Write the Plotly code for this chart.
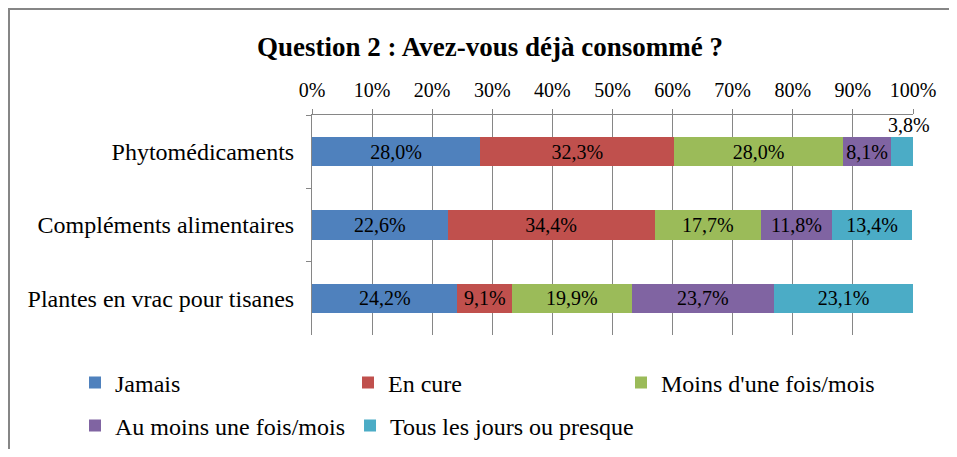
import plotly.graph_objects as go

categories = ["Phytomédicaments", "Compléments alimentaires", "Plantes en vrac pour tisanes"]
series_names = ["Jamais", "En cure", "Moins d'une fois/mois", "Au moins une fois/mois", "Tous les jours ou presque"]
jamais = [28.0, 22.6, 24.2]
en_cure = [32.3, 34.4, 9.1]
moins_une_fois = [28.0, 17.7, 19.9]
au_moins_une_fois = [8.1, 11.8, 23.7]
tous_les_jours = [3.8, 13.4, 23.1]
tick_values = [0, 10, 20, 30, 40, 50, 60, 70, 80, 90, 100]
tick_labels = ["0%", "10%", "20%", "30%", "40%", "50%", "60%", "70%", "80%", "90%", "100%"]

series = [jamais, en_cure, moins_une_fois, au_moins_une_fois, tous_les_jours]
colors = ["#4F81BD", "#C0504D", "#9BBB59", "#8064A2", "#4BACC6"]
legends = ["legend", "legend", "legend", "legend2", "legend2"]

FONT = "Liberation Serif"

def fmt(v):
    return f"{v:.1f}".replace(".", ",") + "%"

fig = go.Figure()
for name, vals, col, lg in zip(series_names, series, colors, legends):
    texts = ["" if v < 5 else fmt(v) for v in vals]
    fig.add_trace(go.Bar(
        y=categories, x=vals, name=name, orientation="h",
        marker=dict(color=col, line=dict(width=0)),
        text=texts, textposition="inside", insidetextanchor="middle",
        textangle=0, constraintext="none",
        textfont=dict(family=FONT, size=20, color="black"),
        legend=lg, hoverinfo="skip",
    ))

# outside label for the small segment (placed above the bar end)
for i, cat in enumerate(categories):
    v = tous_les_jours[i]
    if v < 5:
        fig.add_annotation(x=100, y=cat, text=fmt(v), showarrow=False,
                           xanchor="center", yanchor="middle", xshift=-4, yshift=27,
                           font=dict(family=FONT, size=20, color="black"))

# page has an 8px body margin, so figure coords = screenshot coords - 8
W, H = 941, 441
L, R, T, B = 304, 36, 107, 114
pw, ph = W - L - R, H - T - B

def px_x(p):
    return (p - L) / pw

def px_y(p):
    return (H - B - p) / ph

# chart frame: left and top edges (right/bottom lie outside the view)
fig.add_shape(type="line", xref="paper", yref="paper",
              x0=px_x(1), x1=px_x(1), y0=px_y(H + 10), y1=px_y(0),
              line=dict(color="#868686", width=2), layer="below")
fig.add_shape(type="line", xref="paper", yref="paper",
              x0=px_x(0), x1=px_x(W + 10), y0=px_y(1), y1=px_y(1),
              line=dict(color="#868686", width=2), layer="below")

fig.update_layout(
    width=W, height=H, barmode="stack", bargap=0.6,
    margin=dict(l=L, r=R, t=T, b=B, autoexpand=False),
    paper_bgcolor="white", plot_bgcolor="white",
    font=dict(family=FONT, color="black"),
    title=dict(text="<b>Question 2 : Avez-vous déjà consommé ?</b>",
               x=482 / W, xref="container", xanchor="center",
               y=1 - 39 / H, yref="container", yanchor="middle",
               font=dict(family=FONT, size=27, color="black")),
    xaxis=dict(side="top", range=[0, 100], tickvals=tick_values, ticktext=tick_labels,
               showgrid=True, gridcolor="#868686", gridwidth=1,
               showline=True, linecolor="#868686", linewidth=1,
               ticks="outside", ticklen=5, tickcolor="#868686", ticklabelstandoff=4,
               tickfont=dict(family=FONT, size=20, color="black"), zeroline=False,
               fixedrange=True),
    yaxis=dict(autorange="reversed", showgrid=False,
               showline=True, linecolor="#868686", linewidth=1,
               ticks="outside", ticklen=5, tickcolor="#868686", tickson="boundaries",
               tickfont=dict(family=FONT, size=24, color="black"), ticklabelstandoff=12,
               fixedrange=True),
    legend=dict(orientation="h", x=px_x(67), xanchor="left", y=px_y(375), yanchor="middle",
                entrywidth=228, entrywidthmode="pixels",
                font=dict(family=FONT, size=24, color="black"), traceorder="normal"),
    legend2=dict(orientation="h", x=px_x(67), xanchor="left", y=px_y(418), yanchor="middle",
                 entrywidth=0,
                 font=dict(family=FONT, size=24, color="black"), traceorder="normal"),
)

fig.write_html("out.html")
